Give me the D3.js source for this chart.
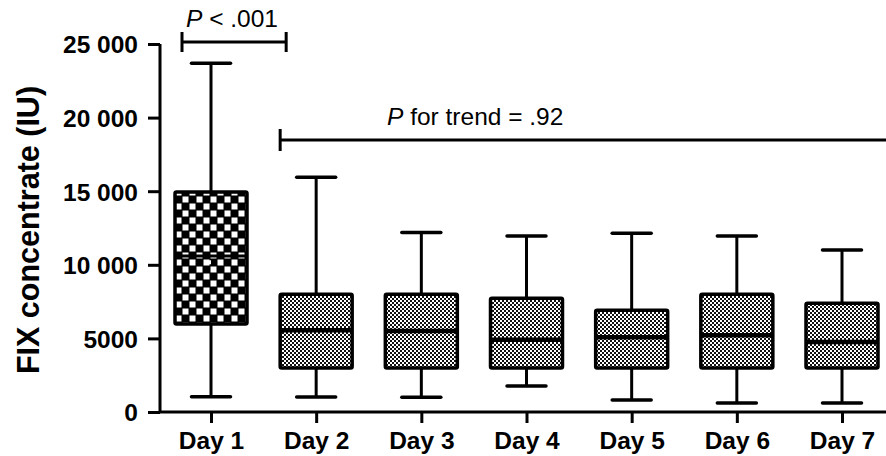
<!DOCTYPE html>
<meta charset="utf-8">
<style>
  body { margin: 0; background: #fff; }
  text { font-family: "Liberation Sans", Arial, sans-serif; fill: #000; }
  .tick text { font-weight: bold; font-size: 24.5px; }
  .ytitle { font-weight: bold; font-size: 30.5px; }
  .note { font-size: 24.5px; }
</style>
<body>
<script src="https://d3js.org/d3.v7.min.js"></script>
<script>
var days = ["Day 1", "Day 2", "Day 3", "Day 4", "Day 5", "Day 6", "Day 7"];
var whiskerHigh = [23700, 15950, 12200, 11950, 12150, 11950, 11000];
var q3 = [14950, 8000, 8000, 7730, 6920, 8000, 7390];
var median = [10600, 5560, 5500, 4900, 5080, 5220, 4760];
var q1 = [5970, 2990, 2990, 2990, 2990, 2990, 2990];
var whiskerLow = [1040, 1020, 1010, 1760, 810, 610, 610];
var means = [10170, null, null, null, null, null, null];
var yTicks = [0, 5000, 10000, 15000, 20000, 25000];
var yTickLabels = ["0", "5000", "10 000", "15 000", "20 000", "25 000"];

var width = 886, height = 456;

var svg = d3.select("body").append("svg")
    .attr("width", width)
    .attr("height", height);

var x = d3.scalePoint().domain(days).range([211, 842]);
var y = d3.scaleLinear().domain([0, 25000]).range([412, 44]);

// fill patterns: coarse check for day 1, fine check for the rest
var defs = svg.append("defs");
var big = defs.append("pattern").attr("id", "checkBig")
    .attr("patternUnits", "userSpaceOnUse").attr("width", 14).attr("height", 14);
big.append("rect").attr("width", 14).attr("height", 14).attr("fill", "#000");
big.append("rect").attr("x", 0.5).attr("y", 0.5).attr("width", 6).attr("height", 6).attr("fill", "#fff");
big.append("rect").attr("x", 7.5).attr("y", 7.5).attr("width", 6).attr("height", 6).attr("fill", "#fff");

var small = defs.append("pattern").attr("id", "checkSmall")
    .attr("patternUnits", "userSpaceOnUse").attr("width", 4).attr("height", 4);
small.append("rect").attr("width", 4).attr("height", 4).attr("fill", "#111");
small.append("rect").attr("x", 0).attr("y", 0).attr("width", 2).attr("height", 2).attr("fill", "#fff");
small.append("rect").attr("x", 2).attr("y", 2).attr("width", 2).attr("height", 2).attr("fill", "#fff");

var data = days.map(function(d, i) {
  return {day: d, hi: whiskerHigh[i], q3: q3[i], med: median[i], q1: q1[i], lo: whiskerLow[i], mean: means[i], i: i};
});

var boxW = 72, capW = 39;

var g = svg.append("g").attr("class", "boxes");
var box = g.selectAll("g").data(data).enter().append("g");

// whiskers
box.append("line")
    .attr("x1", function(d) { return x(d.day); })
    .attr("x2", function(d) { return x(d.day); })
    .attr("y1", function(d) { return y(d.hi); })
    .attr("y2", function(d) { return y(d.lo); })
    .attr("stroke", "#000").attr("stroke-width", 3);
box.selectAll(".cap").data(function(d) { return [{day: d.day, v: d.hi}, {day: d.day, v: d.lo}]; })
  .enter().append("line")
    .attr("class", "cap")
    .attr("x1", function(d) { return x(d.day) - capW / 2; })
    .attr("x2", function(d) { return x(d.day) + capW / 2; })
    .attr("y1", function(d) { return y(d.v); })
    .attr("y2", function(d) { return y(d.v); })
    .attr("stroke", "#000").attr("stroke-width", 3.5).attr("stroke-linecap", "round");

box.append("rect")
    .attr("x", function(d) { return x(d.day) - boxW / 2; })
    .attr("y", function(d) { return y(d.q3); })
    .attr("width", boxW)
    .attr("height", function(d) { return y(d.q1) - y(d.q3); })
    .attr("rx", 1.5)
    .attr("fill", function(d) { return d.i === 0 ? "url(#checkBig)" : "url(#checkSmall)"; })
    .attr("stroke", "#000").attr("stroke-width", 3.5);

box.append("line")
    .attr("x1", function(d) { return x(d.day) - boxW / 2; })
    .attr("x2", function(d) { return x(d.day) + boxW / 2; })
    .attr("y1", function(d) { return y(d.med); })
    .attr("y2", function(d) { return y(d.med); })
    .attr("stroke", "#000").attr("stroke-width", function(d) { return d.i === 0 ? 3 : 4.5; });

box.filter(function(d) { return d.mean != null; }).append("rect")
    .attr("x", function(d) { return x(d.day) - 4; })
    .attr("y", function(d) { return y(d.mean) - 2; })
    .attr("width", 4).attr("height", 4)
    .attr("fill", "#fff");

// axes
var yAxis = svg.append("g").attr("transform", "translate(160,0)")
    .call(d3.axisLeft(y).tickValues(yTicks).tickSize(12).tickPadding(10)
      .tickFormat(function(d, i) { return yTickLabels[i]; }));
var xAxis = svg.append("g").attr("transform", "translate(0,412)")
    .call(d3.axisBottom(x).tickSize(11).tickPadding(9).tickSizeOuter(0));
xAxis.select(".domain").attr("d", "M160,0H890");
[yAxis, xAxis].forEach(function(a) {
  a.selectAll("path, line").attr("stroke", "#000").attr("stroke-width", 3);
  a.selectAll("text").attr("fill", "#000");
});
yAxis.select(".domain").attr("d", "M0,44V412");
yAxis.selectAll(".tick text").attr("dy", "0.36em");

svg.append("text").attr("class", "ytitle")
    .attr("transform", "translate(39,230) rotate(-90)")
    .attr("text-anchor", "middle")
    .text("FIX concentrate (IU)");

// significance brackets
function bracket(x1, x2, yy, h) {
  var b = svg.append("g").attr("stroke", "#000").attr("stroke-width", 3);
  b.append("line").attr("x1", x1).attr("x2", x2).attr("y1", yy).attr("y2", yy);
  b.append("line").attr("x1", x1).attr("x2", x1).attr("y1", yy - h).attr("y2", yy + h);
  b.append("line").attr("x1", x2).attr("x2", x2).attr("y1", yy - h).attr("y2", yy + h);
}
bracket(x("Day 1") - 29, x("Day 2") - 30, 42, 10);
bracket(x("Day 2") - boxW / 2, 900, 140, 11);

var t1 = svg.append("text").attr("class", "note").attr("x", 232).attr("y", 27).attr("text-anchor", "middle");
t1.append("tspan").attr("font-style", "italic").text("P");
t1.append("tspan").text(" < .001");
var t2 = svg.append("text").attr("class", "note").attr("x", 387).attr("y", 125);
t2.append("tspan").attr("font-style", "italic").text("P");
t2.append("tspan").text(" for trend = .92");
</script>
</body>
</html>
